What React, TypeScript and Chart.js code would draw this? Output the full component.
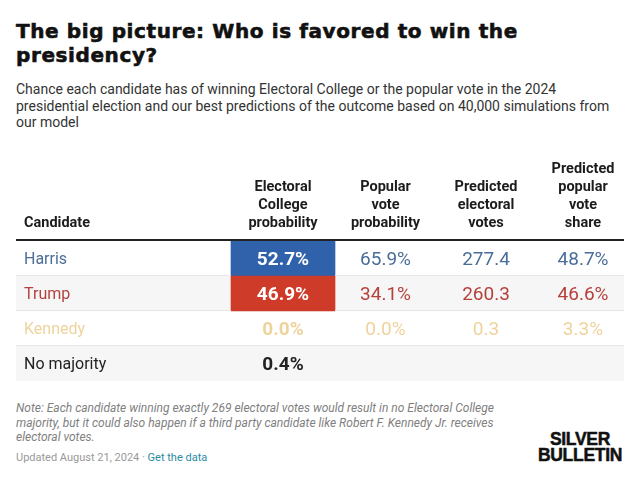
import React, { useEffect, useRef } from 'react';
import { Chart, registerables } from 'chart.js';

Chart.register(...registerables);

// ---------- data ----------
const candidates = ['Harris', 'Trump', 'Kennedy', 'No majority'];
const candidateColors = ['#4a6d99', '#b4413b', '#efd39c', '#222222'];
const ecCellColors = ['#2f62ab', '#cf3b29', null, null];
const ecProbability = [52.7, 46.9, 0.0, 0.4];
const popularVoteProbability = [65.9, 34.1, 0.0, null];
const predictedElectoralVotes = [277.4, 260.3, 0.3, null];
const predictedPopularShare = [48.7, 46.6, 3.3, null];
const columnHeaders = [
  ['Candidate'],
  ['Electoral', 'College', 'probability'],
  ['Popular', 'vote', 'probability'],
  ['Predicted', 'electoral', 'votes'],
  ['Predicted', 'popular', 'vote', 'share'],
];
const valueColumns = [ecProbability, popularVoteProbability, predictedElectoralVotes, predictedPopularShare];
const valueUnits = ['%', '%', '', '%'];

// ---------- layout (table units = px from table's left edge) ----------
const TABLE_W = 608;
const colEdges = [0, 215, 319, 420, 520, 614];
const colCenter = (c: number) => (colEdges[c] + colEdges[c + 1]) / 2;

const tablePlugin = {
  id: 'tableText',
  afterDatasetsDraw(chart: any) {
    const { ctx, chartArea, scales } = chart;
    const x = scales.x;
    const y = scales.y;
    const left = chartArea.left;
    const right = chartArea.right;
    const ecL = x.getPixelForValue(colEdges[1]);
    const ecR = x.getPixelForValue(colEdges[2]);
    ctx.save();
    // row separators
    ctx.fillStyle = '#e6e6e6';
    for (let i = 1; i < candidates.length; i++) {
      const yb = Math.round((y.getPixelForValue(i - 1) + y.getPixelForValue(i)) / 2);
      if (ecCellColors[i - 1] || ecCellColors[i]) {
        ctx.fillRect(left, yb - 1, ecL - left, 1);
        ctx.fillRect(ecR, yb - 1, right - ecR, 1);
      } else {
        ctx.fillRect(left, yb - 1, right - left, 1);
      }
    }
    // header rule
    ctx.fillStyle = '#222222';
    ctx.fillRect(left, chartArea.top - 2, right - left, 2);
    // header text
    ctx.font = 'bold 14.5px Roboto';
    ctx.fillStyle = '#1c1c1c';
    ctx.textBaseline = 'alphabetic';
    columnHeaders.forEach((lines, c) => {
      const n = lines.length;
      lines.forEach((ln, k) => {
        const by = chartArea.top - 14 - (n - 1 - k) * 18;
        if (c === 0) {
          ctx.textAlign = 'left';
          ctx.fillText(ln, left + 8, by);
        } else {
          ctx.textAlign = 'center';
          ctx.fillText(ln, x.getPixelForValue(colCenter(c)), by);
        }
      });
    });
    // rows
    candidates.forEach((name, i) => {
      const cy = y.getPixelForValue(i);
      ctx.textAlign = 'left';
      ctx.font = '16px Roboto';
      ctx.fillStyle = candidateColors[i];
      ctx.fillText(name, left + 8, cy + 5.5);
      valueColumns.forEach((col, c) => {
        const v = col[i];
        if (v === null || v === undefined) return;
        const txt = v.toFixed(1) + valueUnits[c];
        ctx.textAlign = 'center';
        if (c === 0) {
          ctx.font = 'bold 19px Roboto';
          ctx.fillStyle = ecCellColors[i] ? '#ffffff' : candidateColors[i];
        } else {
          ctx.font = '19px Roboto';
          ctx.fillStyle = candidateColors[i];
        }
        ctx.fillText(txt, x.getPixelForValue(colCenter(c + 1)), cy + 6.5);
      });
    });
    ctx.restore();
  },
};

function TableChart() {
  const ref = useRef<HTMLCanvasElement | null>(null);
  useEffect(() => {
    if (!ref.current) return;
    const chart = new Chart(ref.current, {
      type: 'bar',
      data: {
        labels: candidates,
        datasets: [
          {
            label: 'stripes',
            data: candidates.map((_, i) => (i % 2 === 1 ? [0, TABLE_W] : null)) as any,
            backgroundColor: '#f6f6f6',
            grouped: false,
            barPercentage: 1,
            categoryPercentage: 1,
            order: 2,
          },
          {
            label: 'Electoral College probability',
            data: ecCellColors.map((c) => (c ? [colEdges[1], colEdges[2]] : null)) as any,
            backgroundColor: ecCellColors.map((c) => c || 'rgba(0,0,0,0)'),
            grouped: false,
            barPercentage: 1,
            categoryPercentage: 1,
            order: 1,
          },
        ],
      },
      options: {
        indexAxis: 'y',
        animation: false,
        responsive: true,
        maintainAspectRatio: false,
        events: [],
        layout: { padding: { top: 91, left: 0, right: 0, bottom: 0 } },
        plugins: { legend: { display: false }, tooltip: { enabled: false } },
        scales: {
          x: { type: 'linear', min: 0, max: TABLE_W, display: false },
          y: { type: 'category', display: false },
        },
      },
      plugins: [tablePlugin],
    });
    return () => chart.destroy();
  }, []);
  return (
    <div style={{ position: 'absolute', left: 16, top: 150, width: TABLE_W, height: 231 }}>
      <canvas ref={ref} />
    </div>
  );
}

export default function App() {
  return (
    <div style={{ position: 'fixed', left: 0, top: 0, width: 640, height: 496, background: '#fff', fontFamily: 'Roboto, sans-serif' }}>
      <div style={{ position: 'absolute', left: 16, top: 19, width: 580, font: 'bold 20px/24px "DejaVu Sans"', color: '#111', letterSpacing: '0.6px', WebkitTextStroke: '0.6px #111' }}>
        The big picture: Who is favored to win the presidency?
      </div>
      <div style={{ position: 'absolute', left: 16, top: 81, width: 605, font: '14px/16.5px Roboto', color: '#333' }}>
        Chance each candidate has of winning Electoral College or the popular vote in the 2024 presidential election and our best predictions of the outcome based on 40,000 simulations from our model
      </div>
      <TableChart />
      <div style={{ position: 'absolute', left: 16, top: 401, width: 505, font: 'italic 12px/14.7px Roboto', color: '#808080' }}>
        Note: Each candidate winning exactly 269 electoral votes would result in no Electoral College majority, but it could also happen if a third party candidate like Robert F. Kennedy Jr. receives electoral votes.
      </div>
      <div style={{ position: 'absolute', left: 16, top: 451, font: '11px/14px Roboto', color: '#999' }}>
        Updated August 21, 2024 · <span style={{ color: '#2a8ba3' }}>Get the data</span>
      </div>
      <div style={{ position: 'absolute', left: 530, top: 432, width: 100, textAlign: 'center', font: 'bold 17.5px/15.5px "Liberation Sans"', color: '#111', letterSpacing: '-0.3px', WebkitTextStroke: '0.5px #111' }}>
        SILVER<br />BULLETIN
      </div>
    </div>
  );
}
